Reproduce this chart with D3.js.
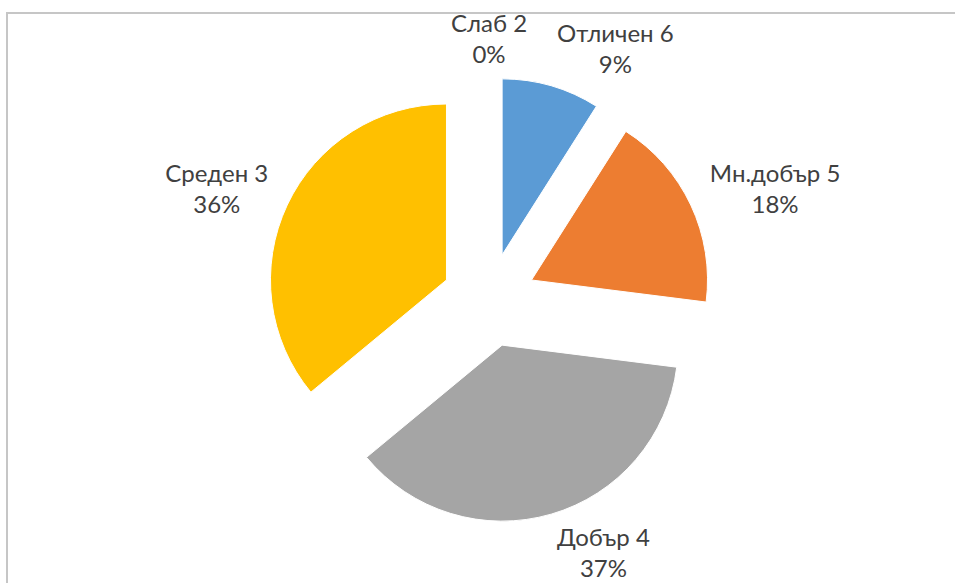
<!DOCTYPE html>
<html><head><meta charset="utf-8">
<script src="https://cdn.jsdelivr.net/npm/d3@7"></script>
<style>html,body{margin:0;padding:0;background:#fff;}svg{display:block;}</style>
</head><body>
<svg id="chart" width="955" height="583"></svg>
<script>
const categories = ["Отличен 6", "Мн.добър 5", "Добър 4", "Среден 3", "Слаб 2"];
const values = [9, 18, 37, 36, 0];
const colors = ["#5B9BD5", "#ED7D31", "#A5A5A5", "#FFC000", "#4472C4"];

const W = 955, H = 583;
const cx = 489, cy = 300, R = 176, explode = 47, labelGap = 9, sidePad = 12;
const fontSize = 24, lineH = 31;

const svg = d3.select("#chart");
// chart frame (partially cropped)
svg.append("rect").attr("x", 7).attr("y", 13).attr("width", W + 20).attr("height", H + 20)
  .attr("fill", "#fff").attr("stroke", "#c6c6c6").attr("stroke-width", 2);

const total = d3.sum(values);
const data = categories.map((c, i) => ({cat: c, value: values[i], color: colors[i]}));
const pie = d3.pie().value(d => d.value).sort(null).startAngle(0).endAngle(2 * Math.PI);
const arcs = pie(data);
const arc = d3.arc().innerRadius(0).outerRadius(R);

const g = svg.append("g").attr("transform", `translate(${cx},${cy})`);
g.selectAll("path.slice").data(arcs.filter(a => a.data.value > 0)).join("path")
  .attr("class", "slice")
  .attr("d", arc)
  .attr("fill", d => d.data.color)
  .attr("stroke", "#fff").attr("stroke-width", 1)
  .attr("transform", d => {
    const m = (d.startAngle + d.endAngle) / 2;
    return `translate(${explode * Math.sin(m)},${-explode * Math.cos(m)})`;
  });

const fmt = v => Math.round(v / total * 100) + "%";
const labels = g.selectAll("g.lab").data(arcs).join("g").attr("class", "lab");
labels.each(function(d) {
  const sel = d3.select(this);
  const t = sel.append("text")
    .attr("font-family", "Lato, 'Open Sans', sans-serif")
    .attr("font-size", fontSize).attr("fill", "#404040")
    .attr("text-anchor", "middle");
  t.append("tspan").attr("x", 0).attr("y", 0).text(d.data.cat);
  t.append("tspan").attr("x", 0).attr("y", lineH).text(fmt(d.data.value));
  const bb = t.node().getBBox();
  const m = (d.startAngle + d.endAngle) / 2;
  const s = Math.sin(m), c = Math.cos(m);
  const rr = R + explode + labelGap;
  const px = rr * s, py = -rr * c;
  const w = bb.width, h = bb.height;
  const ccx = px + (w / 2 + sidePad * Math.abs(s)) * Math.max(-1, Math.min(1, s * 4));
  const ccy = py - (h / 2) * c;
  sel.attr("transform", `translate(${ccx - (bb.x + w / 2)},${ccy - (bb.y + h / 2)})`);
});
</script>
</body></html>
